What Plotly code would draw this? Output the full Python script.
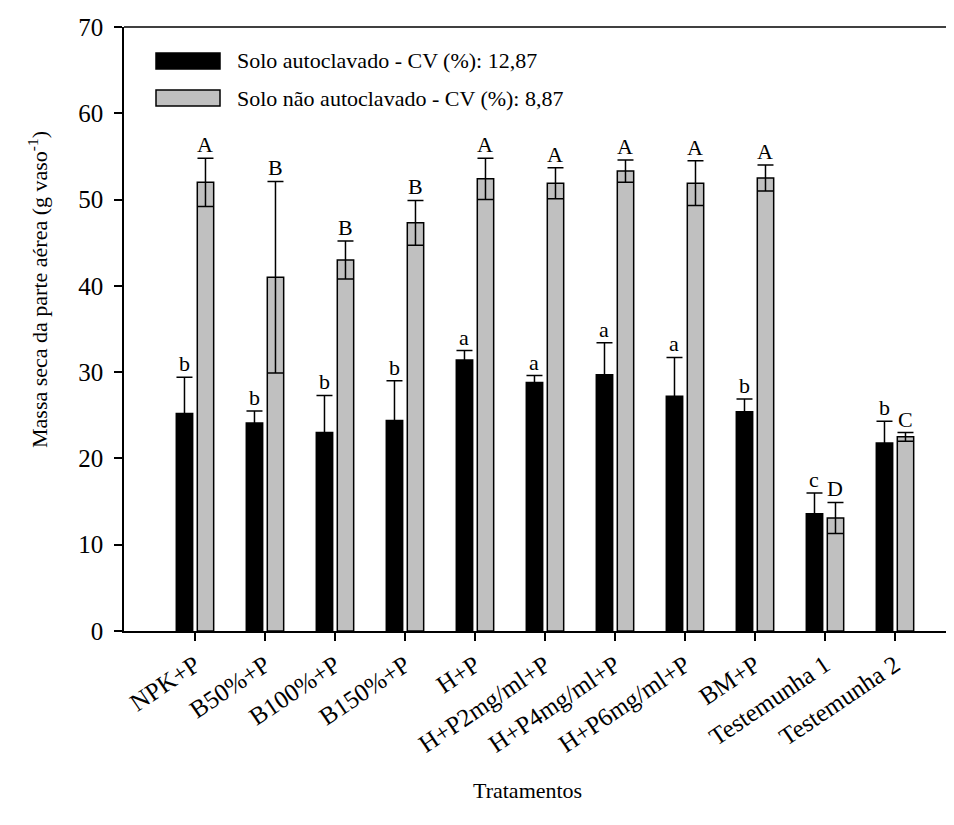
import plotly.graph_objects as go

categories = ["NPK+P", "B50%+P", "B100%+P", "B150%+P", "H+P", "H+P2mg/ml+P",
              "H+P4mg/ml+P", "H+P6mg/ml+P", "BM+P", "Testemunha 1", "Testemunha 2"]

auto_mean = [25.2, 24.1, 23.0, 24.4, 31.4, 28.8, 29.7, 27.2, 25.4, 13.6, 21.8]
auto_err = [4.2, 1.4, 4.3, 4.6, 1.1, 0.8, 3.7, 4.5, 1.5, 2.4, 2.5]
auto_letters = ["b", "b", "b", "b", "a", "a", "a", "a", "b", "c", "b"]

nauto_mean = [52.0, 41.0, 43.0, 47.3, 52.4, 51.9, 53.3, 51.9, 52.5, 13.1, 22.5]
nauto_err = [2.8, 11.1, 2.2, 2.6, 2.4, 1.8, 1.3, 2.6, 1.5, 1.8, 0.5]
nauto_letters = ["A", "B", "B", "B", "A", "A", "A", "A", "A", "D", "C"]

legend_names = ["Solo autoclavado - CV (%): 12,87", "Solo não autoclavado - CV (%): 8,87"]

x = list(range(len(categories)))
FONT = "Liberation Serif, Times New Roman, serif"
FS = 22
TFS = 25

fig = go.Figure()
fig.add_trace(go.Bar(
    x=x, y=auto_mean, name=legend_names[0],
    marker=dict(color="black", line=dict(color="black", width=1.5)),
    error_y=dict(type="data", array=auto_err, color="black", thickness=1.5, width=8),
    showlegend=False,
))
fig.add_trace(go.Bar(
    x=x, y=nauto_mean, name=legend_names[1],
    marker=dict(color="#c0c0c0", line=dict(color="black", width=1.5)),
    error_y=dict(type="data", array=nauto_err, color="black", thickness=1.5, width=8),
    showlegend=False,
))

off = 0.15
annotations = []
for i in x:
    annotations.append(dict(x=i - off, y=auto_mean[i] + auto_err[i], text=auto_letters[i],
                            xref="x", yref="y", showarrow=False, yanchor="bottom", yshift=-1,
                            font=dict(family=FONT, size=FS, color="black")))
    annotations.append(dict(x=i + off, y=nauto_mean[i] + nauto_err[i], text=nauto_letters[i],
                            xref="x", yref="y", showarrow=False, yanchor="bottom", yshift=-1,
                            font=dict(family=FONT, size=FS, color="black")))

# custom legend (positions relative to plot area: left=124, bottom=631 screen px)
legend_rows = [(61, "black"), (98, "#c0c0c0")]
shapes = []
for (yc, col), name in zip(legend_rows, legend_names):
    shapes.append(dict(type="rect", xref="paper", yref="paper",
                       x0=(156 - 124) / 830, x1=(220 - 124) / 830,
                       y0=(631 - (yc + 8)) / 604, y1=(631 - (yc - 8)) / 604,
                       fillcolor=col, line=dict(color="black", width=1.5)))
    annotations.append(dict(x=(235 - 124) / 830, y=(631 - yc) / 604, xref="paper", yref="paper",
                            text=name, showarrow=False, xanchor="left", yanchor="middle",
                            font=dict(family=FONT, size=FS, color="black")))

# top frame line
shapes.append(dict(type="line", xref="paper", yref="paper", x0=0, x1=1, y0=1, y1=1,
                   line=dict(color="black", width=1.5)))

annotations.append(dict(x=-(124 - 38) / 830, y=(631 - 290) / 604, xref="paper", yref="paper",
                        text="Massa seca da parte aérea (g vaso<sup>-1</sup>)", textangle=-90,
                        showarrow=False, xanchor="center", yanchor="middle",
                        font=dict(family=FONT, size=FS, color="black")))
annotations.append(dict(x=(527 - 124) / 830, y=-(790 - 631) / 604, xref="paper", yref="paper",
                        text="Tratamentos", showarrow=False, xanchor="center", yanchor="middle",
                        font=dict(family=FONT, size=FS, color="black")))

fig.update_layout(
    width=946, height=817,
    margin=dict(l=116, r=0, t=19, b=194, autoexpand=False),
    paper_bgcolor="white", plot_bgcolor="white",
    barmode="group", bargap=0.4, bargroupgap=0.22,
    font=dict(family=FONT, size=FS, color="black"),
    shapes=shapes, annotations=annotations,
    xaxis=dict(range=[-1.014, 10.843], tickmode="array", tickvals=x, ticktext=categories,
               tickangle=-34, ticks="outside", ticklen=8, tickwidth=1.5, tickcolor="black",
               showline=True, linecolor="black", linewidth=1.5, showgrid=False, zeroline=False,
               tickfont=dict(family=FONT, size=TFS, color="black")),
    yaxis=dict(range=[0, 70], tickvals=[0, 10, 20, 30, 40, 50, 60, 70],
               ticks="outside", ticklen=8, tickwidth=1.5, tickcolor="black",
               ticklabelstandoff=6,
               showline=True, linecolor="black", linewidth=1.5, showgrid=False, zeroline=False,
               tickfont=dict(family=FONT, size=TFS, color="black")),
)

fig.write_html("out.html")
